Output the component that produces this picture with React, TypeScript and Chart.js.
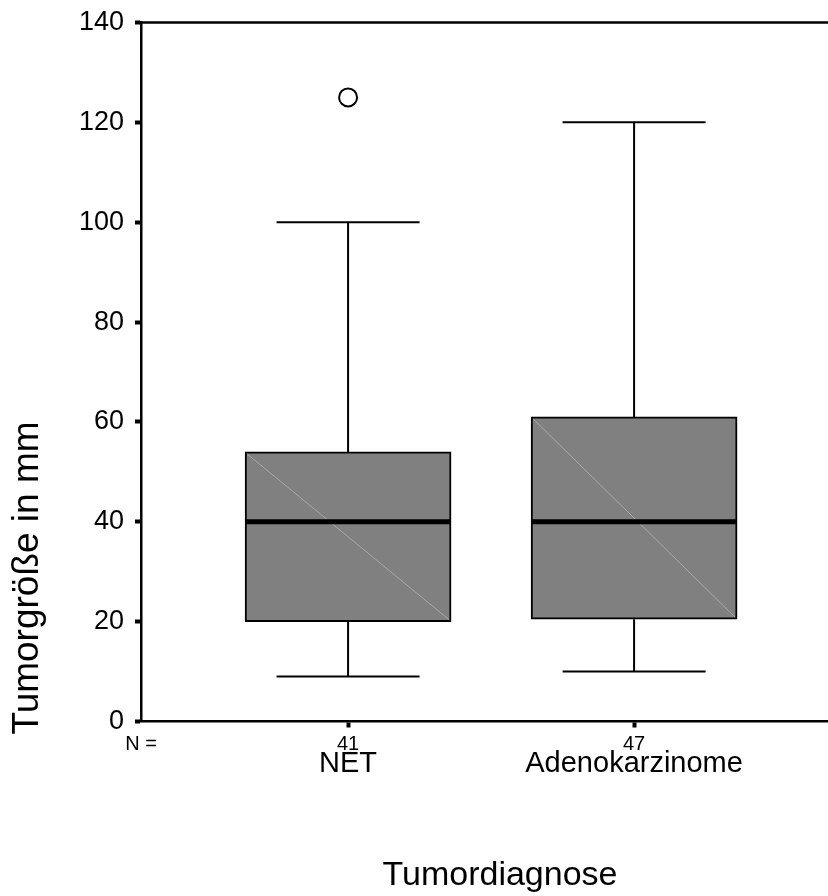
import React, { useEffect, useRef } from "react";
import { Chart, registerables } from "chart.js";

Chart.register(...registerables);

const categories = ["NET", "Adenokarzinome"];
const nCounts = [41, 47];
const minVals = [9, 10];
const q1Vals = [20, 20.5];
const medianVals = [40, 40];
const q3Vals = [54, 61];
const maxVals = [100, 120];
const outlierCats = [0];
const outlierVals = [125];

const yTicks = [0, 20, 40, 60, 80, 100, 120, 140];
const yTitle = "Tumorgröße in mm";
const xTitle = "Tumordiagnose";
const nLabel = "N =";

const X_MIN = 0.276;
const X_MAX = 2.678;
const FONT = "'Liberation Sans', Arial, Helvetica, sans-serif";

export default function App() {
  const ref = useRef<HTMLCanvasElement | null>(null);

  useEffect(() => {
    document.body.style.margin = "0";
    const canvas = ref.current;
    if (!canvas) return;

    const boxPlugin = {
      id: "boxExtras",
      afterDatasetsDraw(chart: any) {
        const ctx = chart.ctx;
        const xs = chart.scales.x;
        const ys = chart.scales.y;
        const area = chart.chartArea;
        ctx.save();
        // top frame line
        ctx.strokeStyle = "#000";
        ctx.lineWidth = 2.5;
        ctx.beginPath();
        ctx.moveTo(area.left, area.top);
        ctx.lineTo(area.right, area.top);
        ctx.stroke();

        categories.forEach((_, i) => {
          const xc = xs.getPixelForValue(i + 1);
          const hw = (xs.getPixelForValue(i + 1.36) - xs.getPixelForValue(i + 0.64)) / 2;
          const cw = xs.getPixelForValue(i + 1.25) - xc;
          const yMin = ys.getPixelForValue(minVals[i]);
          const yQ1 = ys.getPixelForValue(q1Vals[i]);
          const yMed = ys.getPixelForValue(medianVals[i]);
          const yQ3 = ys.getPixelForValue(q3Vals[i]);
          const yMax = ys.getPixelForValue(maxVals[i]);

          ctx.strokeStyle = "#000";
          ctx.lineWidth = 2;
          ctx.beginPath();
          ctx.moveTo(xc, yQ3);
          ctx.lineTo(xc, yMax);
          ctx.moveTo(xc - cw, yMax);
          ctx.lineTo(xc + cw, yMax);
          ctx.moveTo(xc, yQ1);
          ctx.lineTo(xc, yMin);
          ctx.moveTo(xc - cw, yMin);
          ctx.lineTo(xc + cw, yMin);
          ctx.stroke();

          // faint diagonal
          ctx.strokeStyle = "#a8a8a8";
          ctx.lineWidth = 1;
          ctx.beginPath();
          ctx.moveTo(xc - hw + 2, yQ3 + 2);
          ctx.lineTo(xc + hw - 2, yQ1 - 2);
          ctx.stroke();

          // median
          ctx.strokeStyle = "#000";
          ctx.lineWidth = 5;
          ctx.beginPath();
          ctx.moveTo(xc - hw + 1, yMed);
          ctx.lineTo(xc + hw - 1, yMed);
          ctx.stroke();
        });

        // category labels
        ctx.fillStyle = "#000";
        ctx.font = `29px ${FONT}`;
        ctx.textAlign = "center";
        ctx.textBaseline = "alphabetic";
        categories.forEach((c, i) => {
          ctx.fillText(c, xs.getPixelForValue(i + 1), 772);
        });

        // x title
        ctx.font = `34px ${FONT}`;
        ctx.fillText(xTitle, 500, 885);

        // y title
        ctx.translate(28, 578);
        ctx.rotate(-Math.PI / 2);
        ctx.font = `37px ${FONT}`;
        ctx.textBaseline = "middle";
        ctx.fillText(yTitle, 0, 0);
        ctx.restore();
      },
    };

    const chart = new Chart(canvas, {
      type: "bar",
      data: {
        datasets: [
          {
            type: "bar",
            data: categories.map((_, i) => ({ x: i + 1, y: [q1Vals[i], q3Vals[i]] })) as any,
            backgroundColor: "#808080",
            borderColor: "#000",
            borderWidth: 2,
            borderSkipped: false,
            barThickness: 206,
          } as any,
          {
            type: "scatter",
            data: outlierCats.map((c, k) => ({ x: c + 1, y: outlierVals[k] })),
            pointRadius: 9,
            pointBorderWidth: 2,
            pointBackgroundColor: "#fff",
            pointBorderColor: "#000",
            showLine: false,
          } as any,
        ],
      },
      options: {
        responsive: false,
        animation: false,
        devicePixelRatio: 1,
        events: [],
        layout: { autoPadding: false, padding: { top: 22.5, right: 0, left: 0, bottom: 0 } },
        plugins: { legend: { display: false }, tooltip: { enabled: false } },
        scales: {
          x: {
            type: "linear",
            min: X_MIN,
            max: X_MAX,
            offset: false,
            afterBuildTicks: (scale: any) => {
              scale.ticks = [{ value: X_MIN }, ...categories.map((_, i) => ({ value: i + 1 }))];
            },
            afterFit: (scale: any) => {
              scale.height = 896 - 721.5;
              scale.paddingLeft = 0;
              scale.paddingRight = 0;
            },
            ticks: {
              autoSkip: false,
              maxRotation: 0,
              padding: 5,
              color: "#000",
              font: { family: FONT, size: 20 },
              callback: (value: any, index: number) =>
                index === 0 ? nLabel : String(nCounts[index - 1]),
            },
            grid: {
              display: true,
              offset: false,
              drawOnChartArea: false,
              drawTicks: true,
              tickLength: 6,
              tickWidth: 4,
              tickColor: (c: any) => (c.index === 0 ? "rgba(0,0,0,0)" : "#000"),
            },
            border: { display: true, color: "#000", width: 2.5 },
          },
          y: {
            type: "linear",
            min: 0,
            max: 140,
            afterBuildTicks: (scale: any) => {
              scale.ticks = yTicks.map((v) => ({ value: v }));
            },
            afterFit: (scale: any) => {
              scale.width = 141;
              scale.paddingTop = 0;
              scale.paddingBottom = 0;
            },
            ticks: {
              padding: 11,
              color: "#000",
              font: { family: FONT, size: 27 },
            },
            grid: {
              display: true,
              drawOnChartArea: false,
              drawTicks: true,
              tickLength: 6,
              tickWidth: 4,
              tickColor: "#000",
            },
            border: { display: true, color: "#000", width: 2.5 },
          },
        },
      },
      plugins: [boxPlugin],
    });

    return () => chart.destroy();
  }, []);

  return (
    <div style={{ width: 828, height: 896, background: "#fff" }}>
      <canvas ref={ref} width={828} height={896} style={{ display: "block" }} />
    </div>
  );
}
